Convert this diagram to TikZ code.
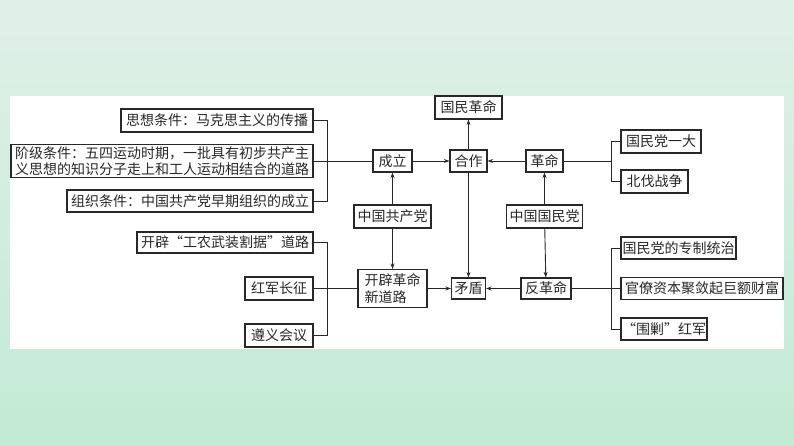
\documentclass[tikz,border=0pt]{standalone}
\usepackage{fontspec}
\newfontfamily\cjk{Noto Sans CJK SC}
\usetikzlibrary{arrows.meta}
\definecolor{bgtop}{RGB}{224,240,232}
\definecolor{bgbot}{RGB}{194,234,213}
\definecolor{ink}{RGB}{40,40,40}
\tikzset{
  bx/.style={draw=ink, line width=1.1pt, fill=white, text=ink, inner sep=1pt,
    font=\cjk\fontsize{14}{15.5}\selectfont, anchor=center},
  ln/.style={draw=ink, line width=0.9pt},
  arr/.style={ln, -{Stealth[length=5.5pt,width=4pt]}},
}
\begin{document}
\begin{tikzpicture}[x=1pt,y=-1pt]
\useasboundingbox (0,0) rectangle (794,446);
\shade[top color=bgtop, bottom color=bgbot] (0,0) rectangle (794,446);
\fill[white] (10,96) rectangle (784,349);

% left column
\node[bx, minimum width=192, minimum height=23] (sx) at (217,120.5) {思想条件：马克思主义的传播};
\node[bx, minimum width=302, minimum height=33, align=left] (jj) at (162,161) {阶级条件：五四运动时期，一批具有初步共产主\\义思想的知识分子走上和工人运动相结合的道路};
\node[bx, minimum width=246, minimum height=22] (zz) at (190,201) {组织条件：中国共产党早期组织的成立};
\node[bx, minimum width=176, minimum height=21] (gnwz) at (225,242.5) {开辟“工农武装割据”道路};
\node[bx, minimum width=68, minimum height=23] (hjcz) at (279,288.5) {红军长征};
\node[bx, minimum width=68, minimum height=23] (zyhy) at (279,335.5) {遵义会议};

% centre
\node[bx, minimum width=67, minimum height=23] (gmgm) at (468.5,107.5) {国民革命};
\node[bx, minimum width=39, minimum height=22] (cl) at (392.5,161) {成立};
\node[bx, minimum width=37, minimum height=22] (hz) at (468.5,161) {合作};
\node[bx, minimum width=37, minimum height=22] (gm) at (544.5,161) {革命};
\node[bx, minimum width=77, minimum height=23] (zggcd) at (392.5,216.5) {中国共产党};
\node[bx, minimum width=76, minimum height=23] (zggmd) at (544.5,216.5) {中国国民党};
\node[bx, minimum width=69, minimum height=38, align=left, font=\cjk\fontsize{14}{17}\selectfont] (kp) at (392.5,288.5) {开辟革命\\新道路};
\node[bx, minimum width=34, minimum height=21] (md) at (468.5,288.5) {矛盾};
\node[bx, minimum width=50, minimum height=21] (fgm) at (546,288.5) {反革命};

% right column
\node[bx, minimum width=80, minimum height=23] (gmdyd) at (661,141.5) {国民党一大};
\node[bx, minimum width=67, minimum height=23] (bf) at (654.5,181.5) {北伐战争};
\node[bx, minimum width=115, minimum height=22] (zzts) at (678.5,248) {国民党的专制统治};
\node[bx, minimum width=162, minimum height=22] (gl) at (702,288.5) {官僚资本聚敛起巨额财富};
\node[bx, minimum width=86, minimum height=22] (wj) at (664,329) {“围剿”红军};

\coordinate (rb) at (612,161);

% brackets
\draw[ln] (sx.east) -- ++(14,0) |- (zz.east);
\draw[ln] (jj.east) -- (cl.west);
\draw[ln] (gnwz.east) -- ++(14,0) |- (zyhy.east);
\draw[ln] (hjcz.east) -- (kp.west);
\draw[ln] (gmdyd.west) -- ++(-9,0) |- (bf.west);
\draw[ln] (gm.east) -- (rb);
\draw[ln] (zzts.west) -- ++(-9,0) |- (wj.west);
\draw[ln] (fgm.east) -- (gl.west);

% arrows
\draw[arr] (cl) -- (hz);
\draw[arr] (gm) -- (hz);
\draw[arr] (hz) -- (gmgm);
\draw[arr] (hz) -- (md);
\draw[arr] (zggcd) -- (cl);
\draw[arr] (zggcd) -- (kp);
\draw[arr] (zggmd) -- (gm);
\draw[arr] (zggmd) -- (fgm);
\draw[arr] (kp) -- (md);
\draw[arr] (fgm) -- (md);
\end{tikzpicture}
\end{document}
